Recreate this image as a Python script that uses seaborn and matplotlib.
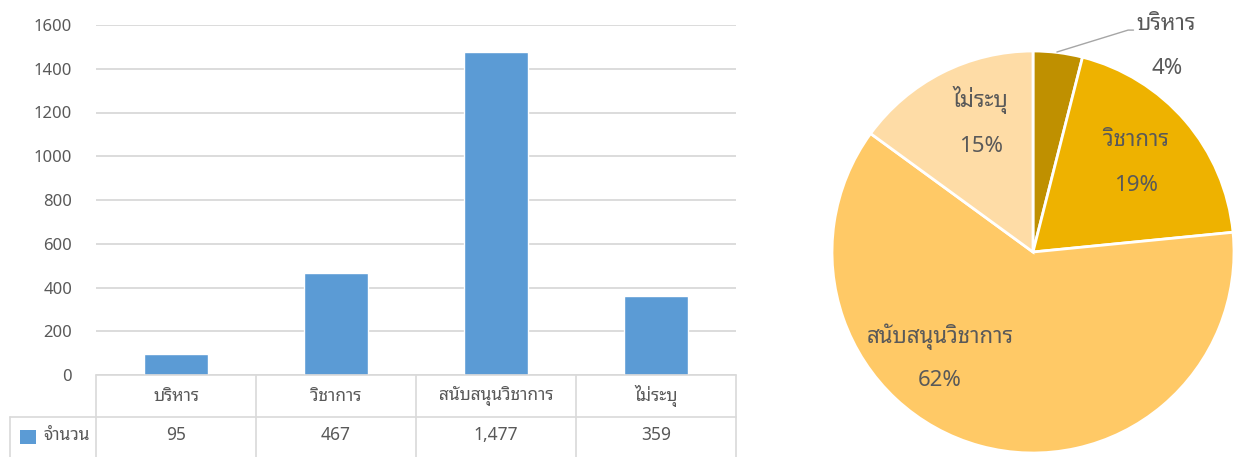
import matplotlib
matplotlib.use("Agg")
import matplotlib.pyplot as plt
import matplotlib.transforms as mtransforms
from matplotlib import font_manager as fm
from matplotlib.ft2font import FT2Font
from matplotlib.patches import Rectangle
import numpy as np
import pandas as pd
import seaborn as sns

# ---------------- data ----------------
categories = ["บริหาร", "วิชาการ", "สนับสนุนวิชาการ", "ไม่ระบุ"]
counts = [95, 467, 1477, 359]
count_labels = ["95", "467", "1,477", "359"]
series_name = "จำนวน"
y_ticks = [0, 200, 400, 600, 800, 1000, 1200, 1400, 1600]
pie_colors = ["#BF9000", "#EEB200", "#FFC966", "#FEDCA6"]
bar_color = "#5B9BD5"


def find_thai_font():
    prefer = ["Tahoma", "Leelawadee UI", "Noto Sans Thai Looped", "Loma", "Garuda",
              "Noto Sans Thai", "Noto Sans Thai UI", "Waree", "Umpush", "Sarabun",
              "Kinnari", "Norasi", "Sawasdee", "Tlwg Typo", "Noto Serif Thai",
              "DejaVu Sans", "Noto Sans"]
    found = {}
    for f in fm.fontManager.ttflist:
        try:
            ft = FT2Font(f.fname)
            if ft.get_char_index(0x0E01) and ft.get_char_index(0x0E32) and ft.get_char_index(0x0E34):
                found.setdefault(f.name, f.fname)
        except Exception:
            pass
    for p in prefer:
        if p in found:
            return p
    return next(iter(found), "DejaVu Sans")


sns.set_theme(style="white")
thai = find_thai_font()
plt.rcParams["font.family"] = [thai, "DejaVu Sans"]
text_color = "#595959"
grid_color = "#D9D9D9"

fig = plt.figure(figsize=(12.38, 4.57), dpi=100)
W, H = 1238, 457
PX = 72 / 100  # points per pixel

# ---------------- bar chart ----------------
ax = fig.add_axes([96 / W, (H - 375) / H, 640 / W, 350 / H])
df = pd.DataFrame({"cat": categories, "val": counts})
sns.barplot(data=df, x="cat", y="val", color=bar_color, width=0.4,
            saturation=1, ax=ax, zorder=3)
ax.set_xlim(-0.5, 3.5)
ax.set_ylim(0, 1600)
ax.set_yticks(y_ticks)
ax.set_yticklabels([str(t) for t in y_ticks], color=text_color, fontsize=12)
ax.tick_params(axis="y", length=0, pad=24 * PX)
ax.tick_params(axis="x", length=0, labelbottom=False)
ax.set_xlabel("")
ax.set_ylabel("")
for s in ax.spines.values():
    s.set_visible(False)
ax.yaxis.grid(True, color=grid_color, linewidth=1.3, zorder=0)
ax.set_axisbelow(True)

# data table below the bars
tr = mtransforms.blended_transform_factory(ax.transData, ax.transAxes)
lw = 1.2
y_head_bot = -42 / 350
y_bottom = -0.30
left_x = -0.5 - 86 / 160
ax.plot([-0.5, 3.5], [0, 0], color=grid_color, lw=lw, transform=tr, clip_on=False, zorder=4)
ax.plot([left_x, 3.5], [y_head_bot, y_head_bot], color=grid_color, lw=lw,
        transform=tr, clip_on=False)
for xb in [-0.5, 0.5, 1.5, 2.5, 3.5]:
    ax.plot([xb, xb], [0, y_bottom], color=grid_color, lw=lw, transform=tr, clip_on=False)
ax.plot([left_x, left_x], [y_head_bot, y_bottom], color=grid_color, lw=lw,
        transform=tr, clip_on=False)
for i, (c, v) in enumerate(zip(categories, count_labels)):
    ax.text(i, -21 / 350, c, transform=tr, ha="center", va="center",
            color=text_color, fontsize=12.5)
    ax.text(i, -60 / 350, v, transform=tr, ha="center", va="center",
            color=text_color, fontsize=12.5)
ax.add_patch(Rectangle((-0.975, -0.197), 0.1, 0.04, transform=tr,
                       facecolor=bar_color, edgecolor="none", clip_on=False))
ax.text(-0.83, -60 / 350, series_name, transform=tr, ha="left", va="center",
        color=text_color, fontsize=12.5)

# ---------------- pie chart ----------------
pax = fig.add_axes([832 / W, (H - 453) / H, 402 / W, 402 / H])
wedges, _ = pax.pie(counts, colors=pie_colors, startangle=90, counterclock=False,
                    radius=1.0,
                    wedgeprops=dict(edgecolor="white", linewidth=2.0))
pax.set_xlim(-1, 1)
pax.set_ylim(-1, 1)
pax.set_aspect("equal")
pax.axis("off")

total = sum(counts)
pcts = [f"{round(100 * v / total)}%" for v in counts]
pie_text_color = "#595959"
name_pos = [(0.66, 1.13), (0.515, 0.557), (-0.463, -0.423), (-0.26, 0.756)]
pct_pos = [(0.667, 0.915), (0.515, 0.333), (-0.463, -0.637), (-0.26, 0.527)]
for c, p, npos, ppos in zip(categories, pcts, name_pos, pct_pos):
    pax.text(*npos, c, ha="center", va="center", fontsize=16,
             color=pie_text_color, clip_on=False)
    pax.text(*ppos, p, ha="center", va="center", fontsize=16,
             color=pie_text_color, clip_on=False)
# leader line for the small slice
pax.plot([0.119, 0.473, 0.50], [0.995, 1.104, 1.104], color="#A6A6A6",
         lw=1.0, clip_on=False)

fig.savefig("out.png", dpi=100, facecolor="white")
